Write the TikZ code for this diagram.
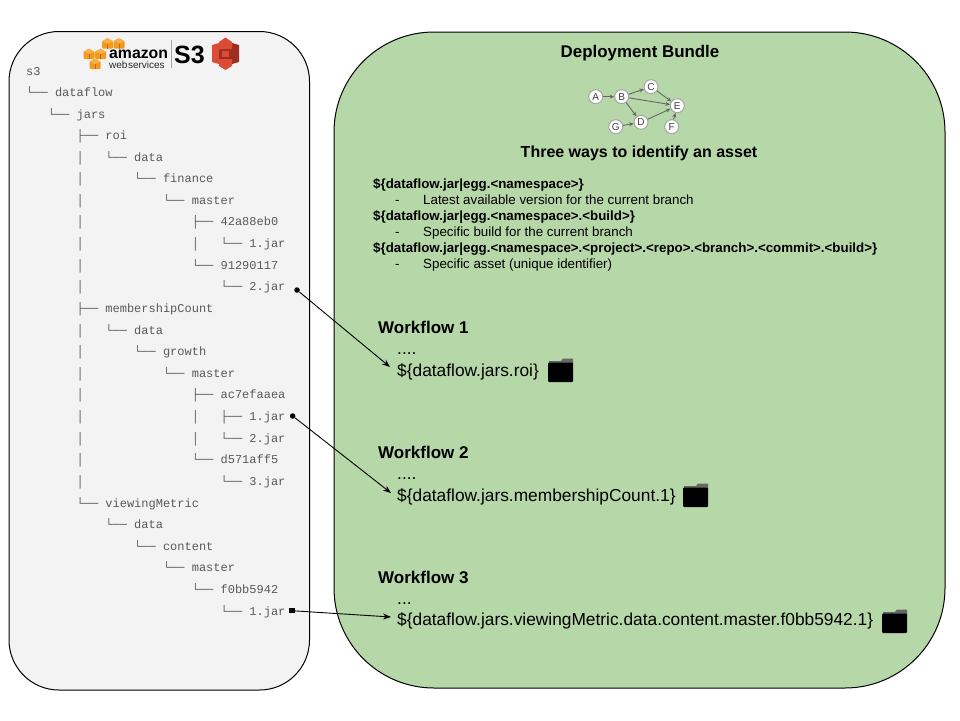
\documentclass[tikz,border=0pt]{standalone}
\usepackage{fontspec}
\setmainfont{Liberation Sans}
\newfontfamily\treefont{Liberation Mono}
\usetikzlibrary{arrows.meta}
\definecolor{leftfill}{HTML}{F3F3F3}
\definecolor{rightfill}{HTML}{B6D7A8}
\definecolor{treecol}{HTML}{595959}
\definecolor{awsorange}{HTML}{F29A1F}
\definecolor{awslight}{HTML}{F7B049}
\definecolor{awsdark}{HTML}{B86F10}
\definecolor{s3red}{HTML}{DB4B35}
\definecolor{s3dark}{HTML}{9E2F20}
\newcommand{\tl}[3]{\node[treeline] (#1) at (26,#2) {#3};}
\tikzset{
  treeline/.style={anchor=base west,inner sep=0pt,text=treecol,font=\treefont\fontsize{12}{12}\selectfont},
  panel/.style={draw=black,line width=1pt},
  heading/.style={inner sep=0pt,font=\bfseries\fontsize{16}{18}\selectfont,text=black},
  wfhead/.style={anchor=base west,inner sep=0pt,font=\bfseries\fontsize{17}{19}\selectfont,text=black},
  ref/.style={anchor=base west,inner sep=0pt,font=\fontsize{17.33}{19}\selectfont,text=black},
  smallb/.style={anchor=base west,inner sep=0pt,font=\bfseries\fontsize{13.33}{15}\selectfont,text=black},
  small/.style={anchor=base west,inner sep=0pt,font=\fontsize{13.33}{15}\selectfont,text=black},
  gnode/.style={circle,draw=gray!70,fill=white,line width=1pt,minimum size=14pt,inner sep=0pt,font=\fontsize{10}{10}\selectfont,text=black!75},
  gedge/.style={draw=black!60,line width=0.9pt,-{Stealth[length=4.5pt,width=4pt]}},
  link/.style={draw=black,line width=0.9pt,-{Stealth[length=8pt,width=6pt]}},
  startdot/.style={circle,fill=black,inner sep=0pt,minimum size=5.5pt},
  startsq/.style={rectangle,fill=black,inner sep=0pt,minimum size=5.5pt}
}
\newcommand{\folder}[2]{%
  \fill[black!60] (#1+1,#2+3) -- (#1+13,#2+3) -- (#1+15,#2+0.5) -- (#1+25,#2+0.5) -- (#1+25,#2+6) -- (#1+1,#2+6) -- cycle;
  \fill[black,rounded corners=1pt] (#1,#2+4.5) rectangle (#1+25,#2+24);
}
\newcommand{\awscube}[2]{%
  \fill[awsorange,rounded corners=1pt] (#1-5.5,#2-2) rectangle (#1+5.5,#2+5.5);
  \fill[awslight] (#1-5.5,#2-2) -- (#1,#2-5) -- (#1+5.5,#2-2) -- (#1,#2+0.5) -- cycle;
  \draw[awsdark,line width=0.4pt] (#1,#2+0.5) -- (#1,#2+5.5);
}
\begin{document}
\begin{tikzpicture}[x=1pt,y=-1pt]
\useasboundingbox (0,0) rectangle (960,720);
\fill[white] (0,0) rectangle (960,720);
% panels
\draw[panel,fill=leftfill,rounded corners=50pt] (9,31.5) rectangle (309.5,690);
\draw[panel,fill=rightfill,rounded corners=100pt] (334,32) rectangle (945,688);
% logo
\awscube{107.5}{43}
\awscube{119}{43}
\awscube{89}{53.5}
\awscube{100.5}{53.5}
\awscube{95}{63.5}
\node[inner sep=0pt,anchor=base west] (amazon) at (109,58.5) {\bfseries\fontsize{15.8}{16}\selectfont amazon};
\node[inner sep=0pt,anchor=base west,text=black!85] (webserv) at (109,68.5) {\fontsize{10}{10}\selectfont web\kern0.5pt services};
\draw[gray!70,line width=0.6pt] (171,40) -- (171,68);
\node[inner sep=0pt,anchor=base west] (sthree) at (174,63) {\bfseries\fontsize{25}{25}\selectfont S3};
\fill[s3red] (212,45) -- (219,43) -- (219,64) -- (212,62) -- cycle;
\fill[s3dark] (232,43) -- (239,45) -- (239,62) -- (232,64) -- cycle;
\fill[s3dark] (219,47) rectangle (232,60);
\fill[s3red] (219,42) -- (225.5,37.5) -- (232,42) -- (232,49) -- (219,49) -- cycle;
\fill[s3red] (222,51) rectangle (229,57);
\fill[s3red] (219,59) -- (232,59) -- (232,66) -- (225.5,70) -- (219,66) -- cycle;
% tree
\tl{t1}{75}{s3}
\tl{t2}{96.5}{└── dataflow}
\tl{t3}{118}{~~~└── jars}
\tl{t4}{139.5}{~~~~~~~├── roi}
\tl{t5}{161}{~~~~~~~│~~~└── data}
\tl{t6}{182.7}{~~~~~~~│~~~~~~~└── finance}
\tl{t7}{204.3}{~~~~~~~│~~~~~~~~~~~└── master}
\tl{t8}{225.9}{~~~~~~~│~~~~~~~~~~~~~~~├── 42a88eb0}
\tl{t9}{247.5}{~~~~~~~│~~~~~~~~~~~~~~~│~~~└── 1.jar}
\tl{t10}{269}{~~~~~~~│~~~~~~~~~~~~~~~└── 91290117}
\tl{t11}{290.6}{~~~~~~~│~~~~~~~~~~~~~~~~~~~└── 2.jar}
\tl{t12}{312.4}{~~~~~~~├── membershipCount}
\tl{t13}{334}{~~~~~~~│~~~└── data}
\tl{t14}{355.6}{~~~~~~~│~~~~~~~└── growth}
\tl{t15}{377.3}{~~~~~~~│~~~~~~~~~~~└── master}
\tl{t16}{398.9}{~~~~~~~│~~~~~~~~~~~~~~~├── ac7efaaea}
\tl{t17}{420.5}{~~~~~~~│~~~~~~~~~~~~~~~│~~~├── 1.jar}
\tl{t18}{442.1}{~~~~~~~│~~~~~~~~~~~~~~~│~~~└── 2.jar}
\tl{t19}{463.7}{~~~~~~~│~~~~~~~~~~~~~~~└── d571aff5}
\tl{t20}{485.3}{~~~~~~~│~~~~~~~~~~~~~~~~~~~└── 3.jar}
\tl{t21}{507}{~~~~~~~└── viewingMetric}
\tl{t22}{528.6}{~~~~~~~~~~~└── data}
\tl{t23}{550.2}{~~~~~~~~~~~~~~~└── content}
\tl{t24}{571.8}{~~~~~~~~~~~~~~~~~~~└── master}
\tl{t25}{593.4}{~~~~~~~~~~~~~~~~~~~~~~~└── f0bb5942}
\tl{t26}{615}{~~~~~~~~~~~~~~~~~~~~~~~~~~~└── 1.jar}
% right panel headings
\node[heading,font=\bfseries\fontsize{16.9}{18}\selectfont] (title) at (640,53.5) {Deployment Bundle};
\node[gnode] (A) at (595.7,96.7) {A};
\node[gnode] (B) at (621.7,96.7) {B};
\node[gnode] (C) at (651,86.7) {C};
\node[gnode] (E) at (677.3,105.7) {E};
\node[gnode] (D) at (641,122.3) {D};
\node[gnode] (G) at (615.7,126.7) {G};
\node[gnode] (F) at (671.7,126.7) {F};
\draw[gedge] (A) -- (B);
\draw[gedge] (B) -- (C);
\draw[gedge] (B) -- (E);
\draw[gedge] (B) -- (D);
\draw[gedge] (C) -- (E);
\draw[gedge] (D) -- (E);
\draw[gedge] (G) -- (D);
\draw[gedge] (F) -- (E);
\node[heading] (three) at (639,153) {Three ways to identify an asset};
\node[smallb] (s1) at (373,188) {\$\{dataflow.jar|egg.<namespace>\}};
\node[small] (d1) at (395,204) {-};
\node[small] (x1) at (423,204) {Latest available version for the current branch};
\node[smallb] (s2) at (373,220) {\$\{dataflow.jar|egg.<namespace>.<build>\}};
\node[small] (d2) at (395,236) {-};
\node[small] (x2) at (423,236) {Specific build for the current branch};
\node[smallb] (s3b) at (373,252) {\$\{dataflow.jar|egg.<namespace>.<project>.<repo>.<branch>.<commit>.<build>\}};
\node[small] (d3) at (395,268) {-};
\node[small] (x3) at (423,268) {Specific asset (unique identifier)};
% workflows
\node[wfhead] (w1) at (378,333) {Workflow 1};
\node[ref] (w1d) at (397,354) {....};
\node[ref] (w1r) at (397,376) {\$\{dataflow.jars.roi\}};
\folder{548}{358}
\node[wfhead] (w2) at (378,458) {Workflow 2};
\node[ref] (w2d) at (397,479) {....};
\node[ref] (w2r) at (397,501) {\$\{dataflow.jars.membershipCount.1\}};
\folder{683}{483}
\node[wfhead] (w3) at (378,583) {Workflow 3};
\node[ref] (w3d) at (397,604) {...};
\node[ref] (w3r) at (397,625) {\$\{dataflow.jars.viewingMetric.data.content.master.f0bb5942.1\}};
\folder{882}{609}
% connectors
\node[startdot] (p1) at (297,290) {};
\coordinate (e1) at (390,367);
\draw[link] (p1) -- (e1);
\node[startdot] (p2) at (292.7,416) {};
\coordinate (e2) at (391,493);
\draw[link] (p2) -- (e2);
\node[startsq] (p3) at (292,610.7) {};
\coordinate (e3) at (391,617);
\draw[link] (p3) -- (e3);
\end{tikzpicture}
\end{document}
